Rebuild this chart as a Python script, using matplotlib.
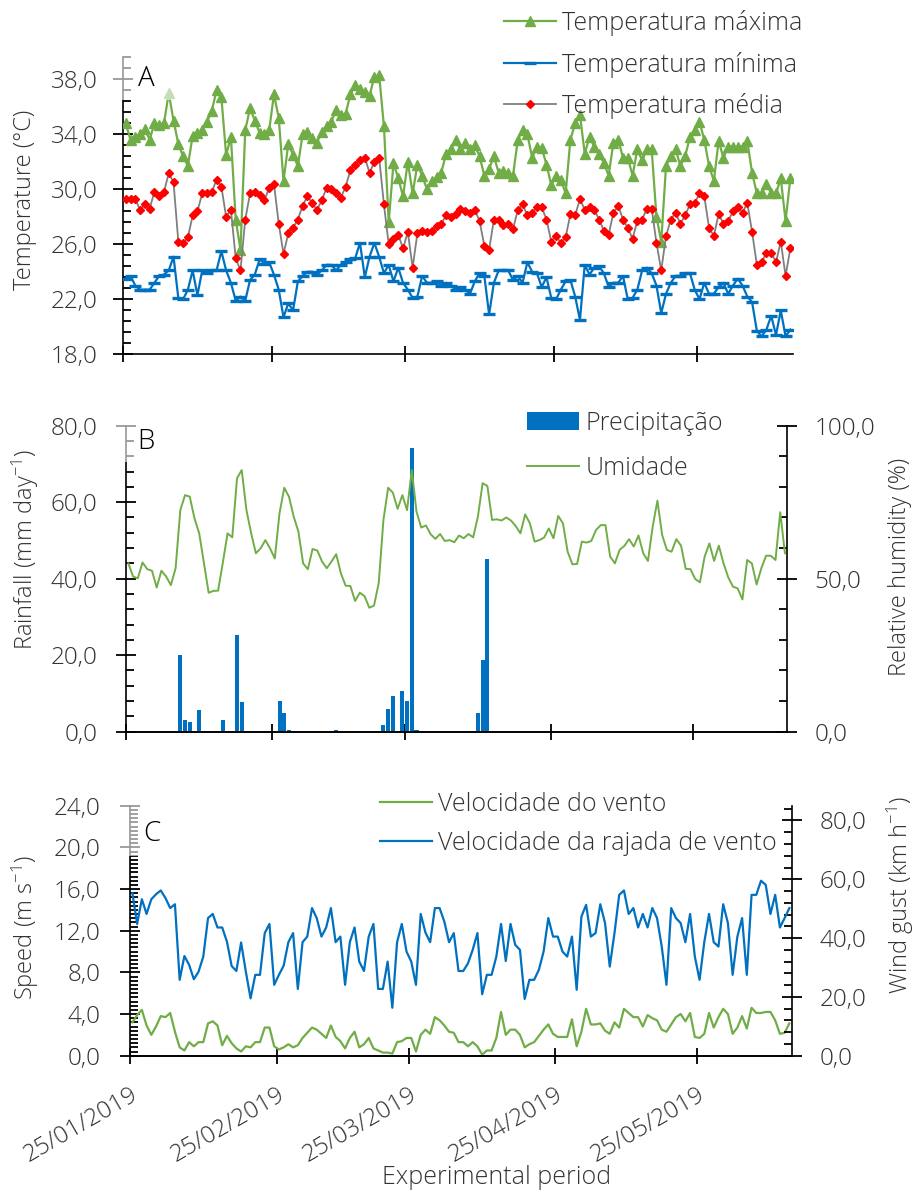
import numpy as np
import pandas as pd
import matplotlib
matplotlib.use("Agg")
import matplotlib.pyplot as plt
import matplotlib.dates as mdates
from matplotlib.ticker import FixedLocator, FuncFormatter
from matplotlib.patches import Rectangle

plt.rcParams['font.family'] = ['Open Sans', 'DejaVu Sans']
plt.rcParams['font.weight'] = 'light'
plt.rcParams['mathtext.fontset'] = 'custom'
plt.rcParams['mathtext.rm'] = 'Open Sans:light'
plt.rcParams['mathtext.default'] = 'rm'

# ---- data (one value per day, 25/01/2019 .. 13/06/2019) ----
start_date = '2019-01-25'
end_date = '2019-06-14'
n_days = 140

temp_max = [34.8, 33.6, 33.8, 34.0, 34.4, 33.6, 34.8, 34.7, 34.8, 37.0,
            35.0, 33.3, 32.4, 31.7, 33.9, 34.1, 34.3, 34.9, 35.7, 37.2,
            36.7, 32.5, 33.8, 27.8, 25.6, 34.3, 35.9, 35.0, 34.1, 34.0,
            34.3, 36.9, 35.2, 30.6, 33.3, 32.5, 31.7, 34.0, 34.2, 33.7,
            33.4, 34.2, 34.6, 34.9, 35.8, 35.4, 35.5, 36.9, 37.6, 37.3,
            37.1, 36.8, 38.2, 38.3, 34.6, 27.6, 31.9, 30.8, 29.5, 32.0,
            29.7, 31.8, 31.0, 30.0, 30.6, 30.9, 31.2, 32.6, 32.9, 33.6,
            32.9, 33.4, 32.9, 33.2, 32.4, 31.0, 31.5, 32.4, 31.2, 31.3,
            31.2, 31.0, 33.6, 34.3, 34.0, 32.3, 33.1, 33.0, 31.8, 30.3,
            31.0, 30.7, 29.7, 33.6, 34.8, 35.4, 32.6, 33.8, 33.1, 32.6,
            31.9, 31.0, 33.4, 33.6, 32.3, 32.3, 31.0, 32.9, 32.1, 32.9,
            32.9, 28.0, 26.2, 31.7, 32.4, 32.9, 31.7, 32.4, 33.8, 34.3,
            34.9, 33.6, 31.7, 30.6, 33.5, 32.3, 33.1, 33.1, 33.1, 33.1,
            33.5, 31.2, 29.7, 29.7, 30.4, 29.7, 29.7, 30.8, 27.7, 30.8]

temp_mean = [29.3, 29.3, 29.3, 28.5, 28.9, 28.6, 29.8, 29.5, 29.8, 31.2,
             30.5, 26.2, 26.1, 26.5, 28.1, 28.4, 29.7, 29.7, 29.8, 30.7,
             30.2, 28.0, 28.5, 25.0, 24.1, 27.8, 29.7, 29.8, 29.6, 29.2,
             30.1, 30.4, 27.5, 25.3, 26.8, 27.2, 27.8, 28.8, 29.5, 29.0,
             28.5, 29.2, 30.1, 30.0, 29.7, 29.4, 30.2, 31.4, 31.8, 32.1,
             32.3, 31.2, 32.0, 32.3, 28.9, 26.0, 26.4, 26.7, 25.7, 26.9,
             24.3, 26.8, 27.0, 26.9, 27.0, 27.3, 27.5, 28.1, 28.0, 28.2,
             28.6, 28.4, 28.3, 28.5, 27.7, 25.9, 25.6, 27.8, 27.8, 27.4,
             27.5, 27.1, 28.5, 28.9, 28.1, 28.3, 28.7, 28.7, 27.8, 26.2,
             26.6, 26.1, 26.5, 28.2, 28.1, 29.3, 28.5, 28.7, 28.5, 27.8,
             27.0, 26.7, 28.3, 28.8, 27.8, 27.2, 26.4, 27.7, 27.8, 28.6,
             28.6, 26.1, 24.1, 26.6, 27.8, 28.3, 27.5, 28.1, 28.9, 29.0,
             29.7, 29.5, 27.2, 26.6, 28.2, 27.5, 27.7, 28.4, 28.7, 28.3,
             29.0, 26.9, 24.5, 24.7, 25.4, 25.4, 24.7, 26.2, 23.7, 25.7]

temp_min = [23.5, 23.7, 23.0, 22.7, 22.7, 22.7, 23.2, 23.7, 23.8, 24.1,
            25.1, 22.1, 22.0, 22.7, 24.1, 22.3, 24.1, 23.9, 24.1, 24.1,
            25.5, 24.1, 23.2, 21.9, 22.2, 21.9, 23.4, 23.8, 24.9, 24.6,
            24.7, 23.8, 22.7, 20.7, 21.7, 21.2, 23.3, 23.7, 24.0, 24.0,
            23.8, 24.1, 24.5, 24.5, 24.1, 24.5, 24.7, 24.9, 25.0, 26.1,
            23.6, 25.1, 26.1, 25.1, 23.9, 24.5, 23.3, 24.3, 23.2, 22.7,
            22.1, 22.2, 23.7, 23.2, 23.2, 23.3, 23.0, 23.2, 23.0, 22.7,
            22.9, 22.7, 22.4, 23.3, 23.9, 23.7, 20.9, 23.2, 24.1, 24.1,
            24.1, 23.4, 23.7, 23.2, 24.7, 24.0, 23.9, 22.9, 23.6, 22.1,
            22.0, 22.7, 23.3, 23.4, 22.2, 20.5, 24.5, 23.8, 24.3, 24.4,
            23.9, 22.9, 23.2, 23.2, 23.7, 22.0, 22.1, 22.7, 24.1, 24.3,
            23.9, 23.0, 21.0, 22.4, 23.2, 23.7, 23.7, 23.9, 23.9, 22.7,
            22.0, 23.2, 22.4, 22.4, 22.9, 23.2, 22.4, 23.0, 23.5, 23.0,
            22.2, 21.8, 19.7, 19.3, 19.8, 20.8, 19.4, 21.2, 19.3, 19.8]

humidity = [55.0, 50.7, 50.1, 55.3, 53.1, 52.6, 47.1, 52.6, 50.7, 47.9,
            53.4, 72.4, 77.3, 76.8, 69.7, 64.8, 55.0, 45.4, 46.0, 46.1,
            55.2, 64.8, 63.5, 82.8, 85.5, 72.4, 64.8, 58.3, 59.9, 62.6,
            59.9, 56.6, 71.4, 79.7, 76.8, 70.3, 65.4, 55.0, 53.1, 59.7,
            59.2, 55.6, 53.4, 55.6, 58.0, 51.7, 47.7, 47.6, 42.7, 45.4,
            44.3, 40.5, 41.2, 48.5, 69.2, 79.7, 78.1, 72.8, 77.3, 72.4,
            85.5, 71.9, 66.7, 67.4, 64.5, 63.0, 64.6, 62.3, 62.6, 61.9,
            64.1, 63.2, 64.6, 63.5, 70.3, 81.2, 80.3, 69.2, 69.4, 69.0,
            70.0, 69.0, 67.2, 64.8, 71.0, 68.1, 62.1, 62.6, 63.4, 66.4,
            63.2, 70.5, 68.1, 58.8, 54.7, 54.8, 62.1, 61.8, 62.3, 65.9,
            67.5, 67.5, 57.2, 55.0, 59.4, 60.7, 62.9, 60.5, 64.1, 58.3,
            55.8, 67.0, 75.5, 64.3, 59.4, 58.8, 62.9, 60.8, 53.2, 53.1,
            49.9, 48.8, 57.2, 61.5, 55.8, 60.8, 55.0, 50.4, 47.4, 46.8,
            43.2, 56.1, 55.0, 48.1, 53.4, 57.5, 57.5, 56.1, 71.7, 58.3]

# rainy days only (day index from 25/01/2019) and rainfall in mm
rain_day = [11, 12, 13, 15, 20, 23, 24, 32, 33, 34, 44,
            54, 55, 56, 58, 59, 60, 61, 74, 75, 76]
rain_mm = [20.0, 3.1, 2.6, 5.7, 3.1, 25.3, 7.8, 8.0, 5.0, 0.4, 0.4,
           1.7, 5.8, 9.2, 10.6, 8.1, 74.1, 0.4, 4.8, 18.7, 45.1]

wind_speed = [3.2, 3.9, 4.4, 2.9, 2.0, 2.8, 3.8, 3.7, 4.1, 2.3,
              0.8, 0.5, 1.3, 0.9, 1.3, 1.3, 3.1, 3.3, 2.9, 1.0,
              1.9, 1.2, 0.7, 0.4, 0.9, 0.8, 1.3, 1.3, 2.7, 2.7,
              0.9, 0.6, 0.8, 1.1, 0.8, 1.0, 1.7, 2.2, 2.7, 2.5,
              2.1, 1.7, 2.9, 1.8, 1.4, 0.7, 1.7, 2.3, 0.8, 1.1,
              1.7, 0.7, 0.5, 0.3, 0.3, 0.2, 1.3, 1.4, 1.7, 1.7,
              0.4, 2.0, 2.5, 2.1, 3.7, 3.4, 2.9, 2.3, 2.2, 1.3,
              1.3, 0.9, 1.3, 0.9, 0.1, 0.5, 0.5, 1.7, 4.2, 2.0,
              2.5, 2.5, 2.0, 0.8, 1.1, 1.3, 1.9, 2.5, 3.0, 2.1,
              1.8, 1.8, 1.8, 3.5, 0.9, 2.3, 4.5, 3.0, 3.0, 3.1,
              2.4, 2.1, 3.2, 2.7, 4.5, 4.1, 3.7, 3.7, 2.8, 3.9,
              3.6, 3.4, 2.5, 2.3, 3.0, 3.7, 4.0, 3.3, 4.1, 1.8,
              1.7, 2.1, 4.1, 2.7, 3.7, 4.5, 4.0, 2.1, 2.7, 3.8,
              2.6, 4.6, 4.1, 4.1, 4.2, 4.2, 3.4, 2.1, 2.2, 3.1]

wind_gust = [55.3, 44.8, 53.2, 48.2, 53.2, 54.9, 56.2, 53.6, 50.2, 51.5,
             25.8, 33.9, 30.9, 26.0, 28.6, 33.7, 46.8, 48.2, 43.6, 43.6,
             38.8, 30.5, 28.8, 38.5, 28.6, 19.5, 27.5, 27.5, 41.7, 44.8,
             24.1, 27.5, 30.6, 38.6, 41.7, 22.7, 38.6, 40.5, 50.2, 46.8,
             40.5, 43.6, 50.2, 38.6, 40.5, 24.1, 38.6, 43.6, 32.0, 28.8,
             40.5, 44.8, 22.7, 22.7, 32.0, 16.3, 38.6, 44.8, 35.4, 32.0,
             24.1, 48.2, 41.9, 38.6, 50.2, 50.2, 45.6, 38.6, 41.7, 28.8,
             28.8, 31.4, 36.0, 41.7, 20.9, 27.5, 27.5, 33.7, 44.8, 32.2,
             44.8, 37.7, 36.0, 19.3, 25.8, 25.8, 29.2, 35.4, 46.8, 40.5,
             40.5, 35.4, 33.7, 40.5, 22.4, 47.3, 51.3, 40.5, 41.7, 51.5,
             45.1, 30.3, 41.7, 54.7, 56.2, 48.2, 50.2, 43.6, 48.2, 43.6,
             50.2, 46.8, 37.1, 24.1, 50.2, 46.8, 45.1, 38.6, 48.2, 33.7,
             25.8, 38.6, 48.2, 38.6, 37.1, 51.5, 45.1, 27.5, 40.5, 46.8,
             27.5, 54.7, 54.7, 59.5, 58.1, 48.2, 54.7, 43.6, 46.8, 50.2]

tick_dates = ['2019-01-25', '2019-02-25', '2019-03-25', '2019-04-25', '2019-05-25']
tick_labels = ['25/01/2019', '25/02/2019', '25/03/2019', '25/04/2019', '25/05/2019']

GREEN = '#70AD47'
BLUE = '#0070C0'
GRAY = '#7F7F7F'
RED = '#FF0000'
TXT = '#333333'
FS = 17.5
LFS = 18

days = mdates.date2num(pd.date_range(start_date, periods=n_days, freq='D'))
x = days + 0.5  # points centred in their day slot
rain_x = days[rain_day] + 0.5
xlim = (mdates.date2num(pd.Timestamp(start_date)), mdates.date2num(pd.Timestamp(end_date)))
xticks = mdates.date2num(pd.to_datetime(tick_dates))

comma = FuncFormatter(lambda v, p: f"{v:.1f}".replace('.', ','))


def set_yscale(ax, lo, hi, major, minor):
    ax.set_ylim(lo, hi)
    ax.yaxis.set_major_locator(FixedLocator(np.arange(lo, hi + 1e-6, major)))
    ax.yaxis.set_minor_locator(FixedLocator(np.arange(lo, hi + 1e-6, minor)))


def style_axis(ax, left=True, right=False, pad=12):
    ax.spines['top'].set_visible(False)
    ax.spines['right'].set_visible(right)
    ax.spines['left'].set_visible(left)
    for s in ax.spines.values():
        s.set_linewidth(1.2)
    ax.set_xlim(*xlim)
    ax.set_xticks(xticks)
    ax.tick_params(axis='x', which='major', direction='inout', length=11, width=1.3,
                   labelbottom=False)
    ax.tick_params(axis='y', which='major', direction='inout', length=14, width=1.3,
                   pad=pad, labelsize=FS, labelcolor=TXT)
    ax.tick_params(axis='y', which='minor', direction='in', length=5.5, width=1.3)
    ax.yaxis.set_major_formatter(comma)
    ax.patch.set_visible(False)


def legend_at(ax, handles, x0, y0, spacing):
    ax.legend(handles=handles, loc='upper left', bbox_to_anchor=(x0, y0),
              bbox_transform=fig.transFigure, frameon=False, fontsize=LFS, borderpad=0,
              borderaxespad=0, handlelength=2.1, handletextpad=0.25, labelspacing=spacing,
              labelcolor=TXT)


fig = plt.figure(figsize=(9.19, 11.93), dpi=100)

# ---------------- panel A : temperature ----------------
axA = fig.add_axes([0.1342, 0.7030, 0.7284, 0.2490])
lmax, = axA.plot(x, temp_max, color=GREEN, lw=1.6, marker='^', ms=7.5, zorder=3,
                 label='Temperatura máxima')
lmin, = axA.plot(x, temp_min, color=BLUE, lw=1.6, marker='_', ms=8, mew=2.4, zorder=3,
                 label='Temperatura mínima')
lmed, = axA.plot(x, temp_mean, color=GRAY, lw=1.3, marker='D', ms=3.6, mfc=RED, mec=RED,
                 zorder=4, label='Temperatura média')
set_yscale(axA, 18, 39.6, 4, 0.8)
style_axis(axA, pad=11.5)
legend_at(axA, [lmax, lmin, lmed], 0.548, 0.9916, 0.62)

# ---------------- panel B : rainfall + humidity ----------------
axB = fig.add_axes([0.1371, 0.3867, 0.7196, 0.2565])
bars = axB.bar(rain_x, rain_mm, width=0.85, color=BLUE, label='Precipitação', zorder=2)
set_yscale(axB, 0, 80, 20, 4)
style_axis(axB, pad=13.5)
axB2 = axB.twinx()
lhum, = axB2.plot(x, humidity, color=GREEN, lw=1.4, label='Umidade')
set_yscale(axB2, 0, 100, 50, 10)
style_axis(axB2, left=False, right=True, pad=12.5)
legend_at(axB2, [bars, lhum], 0.573, 0.6555, 0.8)

# ---------------- panel C : wind ----------------
axC = fig.add_axes([0.1415, 0.1151, 0.7200, 0.2095])
lws, = axC.plot(x, wind_speed, color=GREEN, lw=1.6, label='Velocidade do vento')
set_yscale(axC, 0, 24, 4, 0.4)
style_axis(axC, pad=14.5)
axC.tick_params(axis='x', labelbottom=True, labelsize=FS, labelcolor=TXT, pad=14)
axC.set_xticklabels(tick_labels, rotation=30, ha='right', va='top', rotation_mode='anchor')
axC2 = axC.twinx()
lwg, = axC2.plot(x, wind_gust, color=BLUE, lw=1.6, label='Velocidade da rajada de vento')
set_yscale(axC2, 0, 85, 20, 4)
style_axis(axC2, left=False, right=True, pad=13)
legend_at(axC2, [lws, lwg], 0.413, 0.3361, 0.55)

# ---------------- labels ----------------
H = 1193.0
W = 919.0


def fx(px):
    return px / W


def fy(py):
    return 1 - py / H


# half transparent text boxes behind the panel letters (as in the original)
for (x0, y0, x1, y1) in [(110, 52, 176, 100), (108, 420, 165, 462), (108, 804, 172, 856)]:
    fig.patches.append(Rectangle((fx(x0), fy(y1)), fx(x1) - fx(x0), (y1 - y0) / H,
                                 transform=fig.transFigure, facecolor='white',
                                 edgecolor='none', alpha=0.6, zorder=5))

fig.text(fx(146), fy(79), 'A', fontsize=20, color='black', ha='center', va='center', zorder=6)
fig.text(fx(146), fy(442), 'B', fontsize=20, color='black', ha='center', va='center', zorder=6)
fig.text(fx(152), fy(834), 'C', fontsize=20, color='black', ha='center', va='center', zorder=6)

fig.text(fx(25), fy(200), 'Temperature (°C)', rotation=90, fontsize=17, color=TXT,
         ha='center', va='center')
fig.text(fx(25), fy(549), 'Rainfall (mm day$^{-1}$)', rotation=90, fontsize=17, color=TXT,
         ha='center', va='center')
fig.text(fx(900), fy(567), 'Relative humidity (%)', rotation=90, fontsize=17, color=TXT,
         ha='center', va='center')
fig.text(fx(25), fy(928), 'Speed (m s$^{-1}$)', rotation=90, fontsize=17, color=TXT,
         ha='center', va='center')
fig.text(fx(900), fy(895), 'Wind gust (km h$^{-1}$)', rotation=90, fontsize=17, color=TXT,
         ha='center', va='center')
fig.text(fx(497), fy(1178), 'Experimental period', fontsize=18, color=TXT,
         ha='center', va='center')

fig.savefig('out.png', dpi=100)
